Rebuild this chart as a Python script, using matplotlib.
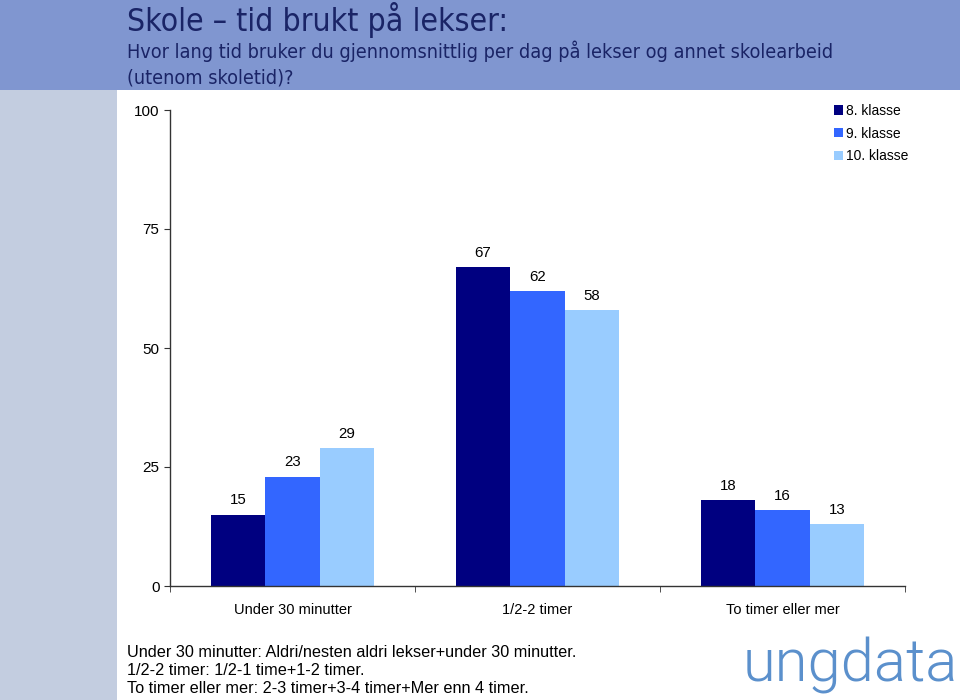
import matplotlib
matplotlib.use("Agg")
import matplotlib.pyplot as plt
from matplotlib import font_manager as fm
import numpy as np
from matplotlib.patches import Rectangle, Patch

categories = ["Under 30 minutter", "1/2-2 timer", "To timer eller mer"]
series_names = ["8. klasse", "9. klasse", "10. klasse"]
klasse8 = [15, 67, 18]
klasse9 = [23, 62, 16]
klasse10 = [29, 58, 13]
yticks = [0, 25, 50, 75, 100]
colors = ["#000080", "#3366FF", "#99CCFF"]

title = "Skole \u2013 tid brukt p\u00e5 lekser:"
subtitle_lines = ["Hvor lang tid bruker du gjennomsnittlig per dag p\u00e5 lekser og annet skolearbeid",
                  "(utenom skoletid)?"]
notes = ["Under 30 minutter: Aldri/nesten aldri lekser+under 30 minutter.",
         "1/2-2 timer: 1/2-1 time+1-2 timer.",
         "To timer eller mer: 2-3 timer+3-4 timer+Mer enn 4 timer."]

ttf = fm.fontManager.ttflist
has_cond = any(f.name == "DejaVu Sans" and str(f.stretch) in ("condensed", "semi-condensed")
               for f in ttf)
has_narrow = any(f.name == "Liberation Sans Narrow" for f in ttf)
stretch_scale = 1.0 if has_cond else 0.9


def _w(f):
    w = f.weight
    if isinstance(w, str):
        return {"light": 300, "normal": 400, "regular": 400, "book": 400}.get(w, 400)
    return w


logo_font, logo_weight = "Lato", "normal"
for cand in ["Roboto", "Open Sans", "Inter", "Noto Sans", "Lato"]:
    if any(f.name == cand and 250 <= _w(f) <= 350 and f.style == "normal" for f in ttf):
        logo_font, logo_weight = cand, 300
        break

W, H = 960, 700
fig = plt.figure(figsize=(9.6, 7.0), dpi=100)
fig.patch.set_facecolor("white")

# background bands
fig.add_artist(Rectangle((0, 1 - 90 / H), 1, 90 / H, transform=fig.transFigure,
                         facecolor="#8096D0", edgecolor="none", zorder=0))
fig.add_artist(Rectangle((0, 0), 117 / W, 1 - 90 / H, transform=fig.transFigure,
                         facecolor="#C3CDE0", edgecolor="none", zorder=0))

navy = "#1A2466"
fig.text(127 / W, 1 - 31 / H, title, fontsize=22.9 * stretch_scale, color=navy,
         family="DejaVu Sans", fontstretch="condensed", va="baseline", ha="left")
for k, line in enumerate(subtitle_lines):
    fig.text(127 / W, 1 - (58 + 26 * k) / H, line, fontsize=14.25 * stretch_scale,
             color=navy, family="DejaVu Sans", fontstretch="condensed",
             va="baseline", ha="left")

ax = fig.add_axes([170 / W, 1 - 586 / H, (905 - 170) / W, (586 - 110) / H])
x = np.arange(len(categories))
bw = 0.6667 / 3
series = [klasse8, klasse9, klasse10]
for i, (vals, c, name) in enumerate(zip(series, colors, series_names)):
    pos = x + (i - 1) * bw
    ax.bar(pos, vals, width=bw, color=c, edgecolor="none", label=name, zorder=2)
    for p, v in zip(pos, vals):
        ax.text(p, v + 1.5, f"{v}", ha="center", va="bottom", fontsize=10.8,
                family="Liberation Sans", color="black")

ax.set_xlim(-0.5, 2.5)
ax.set_ylim(0, 100)
ax.set_yticks(yticks)
ax.set_yticklabels([str(t) for t in yticks], family="Liberation Sans", fontsize=11)
ax.set_xticks(x)
ax.set_xticklabels(categories, family="Liberation Sans", fontsize=10.5)
ax.set_xticks([-0.5, 0.5, 1.5, 2.5], minor=True)
ax.tick_params(axis="x", which="major", length=0, pad=12)
ax.tick_params(axis="x", which="minor", length=4.5, color="#333333", direction="out")
ax.tick_params(axis="y", length=4.5, color="#333333", direction="out", pad=3)
for s in ["top", "right"]:
    ax.spines[s].set_visible(False)
for s in ["left", "bottom"]:
    ax.spines[s].set_color("#333333")
    ax.spines[s].set_linewidth(1.0)
ax.set_facecolor("white")

handles = [Patch(facecolor=c, edgecolor="none") for c in colors]
fig.legend(handles, series_names, loc="upper left",
           bbox_to_anchor=(834 / W, 1 - 104 / H), frameon=False,
           prop={"family": "Liberation Sans", "size": 10},
           handlelength=0.65, handleheight=0.65, handletextpad=0.25,
           labelspacing=0.62, borderaxespad=0, borderpad=0)

note_family = ["Liberation Sans Narrow", "Liberation Sans"] if has_narrow else ["Liberation Sans"]
note_size = 12.5 if has_narrow else 11.7
for k, line in enumerate(notes):
    fig.text(127 / W, 1 - (657 + 18 * k) / H, line, fontsize=note_size,
             family=note_family, va="baseline", ha="left", color="black")

fig.text(958 / W, 1 - 682 / H, "ungdata", fontsize=43, color="#5B90CC",
         family=[logo_font, "DejaVu Sans"], fontweight=logo_weight,
         ha="right", va="baseline")

fig.savefig("out.png", dpi=100, facecolor=fig.get_facecolor())
